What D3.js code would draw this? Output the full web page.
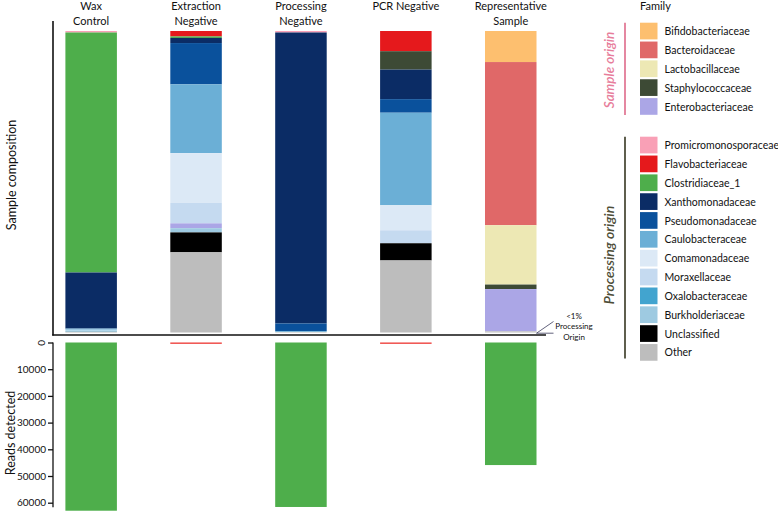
<!DOCTYPE html>
<html><head><meta charset="utf-8">
<script src="https://cdn.jsdelivr.net/npm/d3@7"></script>
<style>
html,body{margin:0;padding:0;background:#fff;}
text{font-family:Lato,"Noto Sans",sans-serif;fill:#111;}
</style></head>
<body><svg id="c" width="778" height="511"></svg>
<script>
// ---------- DATA ----------
const samples = ["Wax Control","Extraction Negative","Processing Negative","PCR Negative","Representative Sample"];
const sampleLabels = [["Wax","Control"],["Extraction","Negative"],["Processing","Negative"],["PCR Negative"],["Representative","Sample"]];
const sampleOriginFamilies = ["Bifidobacteriaceae","Bacteroidaceae","Lactobacillaceae","Staphylococcaceae","Enterobacteriaceae"];
const processingOriginFamilies = ["Promicromonosporaceae","Flavobacteriaceae","Clostridiaceae_1","Xanthomonadaceae","Pseudomonadaceae","Caulobacteraceae","Comamonadaceae","Moraxellaceae","Oxalobacteraceae","Burkholderiaceae","Unclassified","Other"];
// stacking order, top to bottom
const stackOrder = ["Bifidobacteriaceae","Bacteroidaceae","Lactobacillaceae","Promicromonosporaceae","Flavobacteriaceae","Clostridiaceae_1","Staphylococcaceae","Xanthomonadaceae","Pseudomonadaceae","Caulobacteraceae","Comamonadaceae","Moraxellaceae","Enterobacteriaceae","Oxalobacteraceae","Burkholderiaceae","Unclassified","Other"];
// percent composition per family, one value per sample
const Bifidobacteriaceae    = [0,   0,    0,    0,    10.3];
const Bacteroidaceae        = [0,   0,    0,    0,    54.1];
const Lactobacillaceae      = [0,   0,    0,    0,    19.7];
const Staphylococcaceae     = [0,   0,    0,    6.1,  1.5];
const Enterobacteriaceae    = [0,   1.6,  0,    0,    14.0];
const Promicromonosporaceae = [0.5, 0,    0.5,  0,    0];
const Flavobacteriaceae     = [0,   1.8,  0,    6.7,  0];
const Clostridiaceae_1      = [79.6,0.5,  0,    0,    0];
const Xanthomonadaceae      = [18.6,1.7,  96.5, 9.8,  0];
const Pseudomonadaceae      = [0,   13.7, 2.5,  4.5,  0];
const Caulobacteraceae      = [0.4, 22.8, 0.3,  30.7, 0];
const Comamonadaceae        = [0.3, 16.5, 0,    8.3,  0];
const Moraxellaceae         = [0,   6.8,  0,    4.3,  0];
const Oxalobacteraceae      = [0.3, 0,    0,    0,    0];
const Burkholderiaceae      = [0,   1.4,  0,    0,    0];
const Unclassified          = [0,   6.6,  0,    5.7,  0];
const Other                 = [0.3, 26.6, 0.2,  23.9, 0.4];
const readsDetected = [63000, 500, 61600, 500, 45900];
const readsTicks = [0,10000,20000,30000,40000,50000,60000];

// ---------- STYLE ----------
const familyColors = {
  Bifidobacteriaceae:"#fdbf6f", Bacteroidaceae:"#e06868", Lactobacillaceae:"#ede8b4",
  Staphylococcaceae:"#3d4a35", Enterobacteriaceae:"#aba6e6",
  Promicromonosporaceae:"#f9a0b6", Flavobacteriaceae:"#e5191c", Clostridiaceae_1:"#4eae4b",
  Xanthomonadaceae:"#0b2c65", Pseudomonadaceae:"#0a519c", Caulobacteraceae:"#6bafd6",
  Comamonadaceae:"#dce9f6", Moraxellaceae:"#c5daf0", Oxalobacteraceae:"#42a4cf",
  Burkholderiaceae:"#9ecae1", Unclassified:"#000000", Other:"#bdbdbd"
};
const familyValues = {Bifidobacteriaceae,Bacteroidaceae,Lactobacillaceae,Staphylococcaceae,Enterobacteriaceae,
  Promicromonosporaceae,Flavobacteriaceae,Clostridiaceae_1,Xanthomonadaceae,Pseudomonadaceae,Caulobacteraceae,
  Comamonadaceae,Moraxellaceae,Oxalobacteraceae,Burkholderiaceae,Unclassified,Other};

const svg = d3.select("#c");

// scales
const x = d3.scaleBand().domain(samples).range([38.7, 563.2]).paddingInner(0.509).paddingOuter(0.2545);
const yComp = d3.scaleLinear().domain([0, 100]).range([31, 332.5]);
const yReads = d3.scaleLinear().domain([0, 60000]).range([342.5, 502.7]);

// stacked composition
const table = samples.map((s, i) => {
  const row = {sample: s};
  stackOrder.forEach(f => row[f] = familyValues[f][i]);
  return row;
});
const series = d3.stack().keys(stackOrder)(table);
const gBars = svg.append("g");
series.forEach(layer => {
  gBars.selectAll(null).data(layer.filter(d => d[1] - d[0] > 0)).join("rect")
    .attr("x", d => x(d.data.sample))
    .attr("width", x.bandwidth())
    .attr("y", d => yComp(d[0]))
    .attr("height", d => yComp(d[1]) - yComp(d[0]))
    .attr("fill", familyColors[layer.key]);
});

// top axes lines
svg.append("line").attr("x1",53).attr("x2",53).attr("y1",21).attr("y2",335.5)
  .attr("stroke","#111").attr("stroke-width",1.6);
svg.append("line").attr("x1",52.2).attr("x2",546).attr("y1",335).attr("y2",335)
  .attr("stroke","#111").attr("stroke-width",1.6);

// column titles
sampleLabels.forEach((lines, i) => {
  const t = svg.append("text").attr("text-anchor","middle")
    .attr("x", x(samples[i]) + x.bandwidth()/2).style("font-size","11px");
  lines.forEach((l, j) => t.append("tspan").attr("x", x(samples[i]) + x.bandwidth()/2).attr("y", 10 + j*14.5).text(l));
});

// y label top
svg.append("text").attr("transform","translate(16,175) rotate(-90)").attr("text-anchor","middle")
  .style("font-size","12.5px").text("Sample composition");

// reads bars
svg.append("g").selectAll("rect").data(samples).join("rect")
  .attr("x", d => x(d)).attr("width", x.bandwidth())
  .attr("y", yReads(0))
  .attr("height", (d,i) => Math.max(1.3, yReads(readsDetected[i]) - yReads(0)))
  .attr("fill", (d,i) => readsDetected[i] < 1000 ? "#ee3b36" : "#4eae4b");

// reads axis
const gAx = svg.append("g").attr("transform","translate(53,0)")
  .call(d3.axisLeft(yReads).tickValues(readsTicks).tickSize(5).tickSizeOuter(0).tickFormat(d3.format("d")));
gAx.select(".domain").attr("d", `M0,${yReads(0)}V${yReads(61700)}`).attr("stroke","#111").attr("stroke-width",1.3);
gAx.selectAll(".tick line").attr("stroke","#111").attr("stroke-width",1.3);
gAx.selectAll(".tick text").style("font-size","10px").style("font-family","Lato, sans-serif").attr("fill","#111").attr("x",-7);
gAx.selectAll(".tick").filter(d => d === 0).select("text")
  .attr("x",0).attr("y",0).attr("text-anchor","middle").attr("dy","0.35em").attr("dx",0)
  .attr("transform", `translate(-12,0) rotate(90)`);

svg.append("text").attr("transform","translate(15,433) rotate(-90)").attr("text-anchor","middle")
  .style("font-size","12.5px").text("Reads detected");

// <1% processing origin annotation
const rx = x(samples[4]) + x.bandwidth();
svg.append("line").attr("x1",rx).attr("y1",333.2).attr("x2",rx+17).attr("y2",333.2).attr("stroke","#3a3a5a").attr("stroke-width",0.8);
svg.append("line").attr("x1",rx).attr("y1",333.2).attr("x2",rx+17).attr("y2",321.5).attr("stroke","#3a3a5a").attr("stroke-width",0.8);
const ann = svg.append("text").attr("text-anchor","middle").style("font-size","8px");
["<1%","Processing","Origin"].forEach((l,j) => ann.append("tspan").attr("x",574).attr("y",318.5 + j*10.8).text(l));

// legend
svg.append("text").attr("x",640).attr("y",10).style("font-size","11px").text("Family");
const sw = 17.5, step = 18.85, lx = 640;
function legendGroup(fams, y0) {
  fams.forEach((f, i) => {
    svg.append("rect").attr("x", lx).attr("y", y0 + i*step).attr("width", sw).attr("height", sw - 0.8)
      .attr("fill", familyColors[f]);
    svg.append("text").attr("x", 664.5).attr("y", y0 + i*step + sw/2).attr("dy","0.35em")
      .style("font-size","10.5px").text(f);
  });
}
legendGroup(sampleOriginFamilies, 22.7);
legendGroup(processingOriginFamilies, 136.7);

// group markers
svg.append("line").attr("x1",625).attr("x2",625).attr("y1",22.7).attr("y2",115).attr("stroke","#e27b97").attr("stroke-width",1.8);
svg.append("text").attr("transform","translate(614,70) rotate(-90)").attr("text-anchor","middle")
  .style("font-size","13.5px").style("font-style","italic").style("font-weight","600").style("fill","#e77d9b").text("Sample origin");
svg.append("line").attr("x1",625).attr("x2",625).attr("y1",136.7).attr("y2",358.5).attr("stroke","#4d4d3a").attr("stroke-width",1.8);
svg.append("text").attr("transform","translate(614,255) rotate(-90)").attr("text-anchor","middle")
  .style("font-size","14px").style("font-style","italic").style("font-weight","600").style("fill","#4d4d37").text("Processing origin");
</script></body></html>
